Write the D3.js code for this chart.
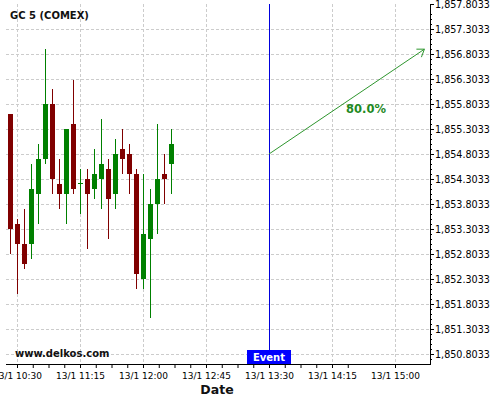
<!DOCTYPE html>
<html>
<head>
<meta charset="utf-8">
<script src="https://cdn.jsdelivr.net/npm/d3@7"></script>
<style>
  body { margin: 0; background: #fff; }
  svg { font-family: "DejaVu Sans", sans-serif; }
</style>
</head>
<body>
<div id="chart"></div>
<script>
// 5 minute candles, 13/1
const times = ["10:25","10:30","10:35","10:40","10:45","10:50","10:55","11:00","11:05","11:10","11:15","11:20",
               "11:25","11:30","11:35","11:40","11:45","11:50","11:55","12:00","12:05","12:10","12:15","12:20"];
const open  = [1855.61,1853.41,1853.01,1853.01,1854.01,1854.71,1855.81,1854.21,1854.01,1855.41,1854.23,1854.31,
               1854.11,1854.31,1854.51,1854.01,1854.91,1854.81,1854.41,1852.31,1853.11,1853.81,1854.41,1854.61];
const high  = [1855.61,1853.51,1853.71,1854.61,1855.01,1856.91,1856.11,1854.71,1855.31,1856.29,1854.51,1854.51,
               1854.91,1855.51,1854.71,1855.11,1855.31,1855.01,1854.51,1854.41,1854.11,1855.41,1854.81,1855.31];
const low   = [1852.81,1852.01,1852.51,1852.71,1853.41,1854.61,1854.01,1853.71,1853.41,1854.00,1853.61,1852.91,
               1853.91,1853.71,1853.11,1853.71,1854.41,1854.01,1852.11,1852.11,1851.53,1853.21,1853.81,1854.01];
const close = [1853.31,1853.01,1852.61,1854.11,1854.71,1855.81,1854.31,1854.01,1855.31,1854.11,1854.23,1854.01,
               1854.41,1854.61,1853.91,1854.81,1854.71,1854.41,1852.41,1853.21,1853.81,1854.31,1854.31,1855.01];

const xTickLabels = ["10:30","11:15","12:00","12:45","13:30","14:15","15:00"];
const yTicks = d3.range(15).map(i => 1850.8033 + 0.5 * i);

const eventTime = "13:30";
const arrowFrom = { time: "13:30", price: 1854.8033 };
const arrowTo = { time: "15:21", price: 1856.90 };
const arrowLabel = "80.0%";

const t = s => { const [h, m] = s.split(":"); return new Date(2020, 0, 13, +h, +m); };

const W = 500, H = 400;
const pLeft = 6, pRight = 430, pTop = 4, pBottom = 364;

const svg = d3.select("#chart").append("svg").attr("width", W).attr("height", H);

const x = d3.scaleTime().domain([t("10:30"), t("15:00")]).range([17, 395]);
const y = d3.scaleLinear().domain([1850.8033, 1857.8033]).range([354, 4]);

// grid
const grid = svg.append("g").attr("stroke", "#cccccc").attr("stroke-dasharray", "3,2").attr("shape-rendering", "crispEdges");
grid.selectAll(".gy").data(yTicks.filter(d => y(d) > pTop + 1)).join("line")
  .attr("x1", pLeft).attr("x2", pRight)
  .attr("y1", d => Math.round(y(d)) + 0.5).attr("y2", d => Math.round(y(d)) + 0.5);
grid.selectAll(".gx").data(xTickLabels).join("line")
  .attr("x1", d => x(t(d)) + 0.5).attr("x2", d => x(t(d)) + 0.5)
  .attr("y1", pTop).attr("y2", pBottom);

// candles
const candles = times.map((d, i) => ({ time: t(d), o: open[i], h: high[i], l: low[i], c: close[i] }));
const cg = svg.append("g").attr("shape-rendering", "crispEdges");
const col = d => d.c >= d.o ? "#008000" : "#800000";
cg.selectAll(".wick").data(candles).join("rect")
  .attr("x", d => x(d.time)).attr("width", 1)
  .attr("y", d => y(d.h)).attr("height", d => Math.max(1, y(d.l) - y(d.h)))
  .attr("fill", col);
cg.selectAll(".body").data(candles).join("rect")
  .attr("x", d => x(d.time) - 2).attr("width", 5)
  .attr("y", d => y(Math.max(d.o, d.c)))
  .attr("height", d => Math.max(1, Math.abs(y(d.o) - y(d.c))))
  .attr("fill", col);

// x axis
const minorX = d3.range(0, 23).map(i => new Date(+t("10:30") + (i - 1) * 11.25 * 60000)).filter(d => x(d) >= pLeft && x(d) <= pRight);
svg.append("g").attr("transform", `translate(0,${pBottom})`)
  .call(d3.axisBottom(x).tickValues(minorX).tickSize(4).tickFormat(""))
  .call(g => g.select(".domain").remove());
const xAxis = svg.append("g").attr("transform", `translate(0,${pBottom})`)
  .call(d3.axisBottom(x).tickValues(xTickLabels.map(t)).tickSize(4).tickFormat(d3.timeFormat("%-d/%-m %H:%M")))
  .call(g => g.select(".domain").remove());
xAxis.selectAll("text").attr("font-size", 9).attr("font-family", "DejaVu Sans").attr("fill", "#000").attr("dy", "0.9em");
svg.append("line").attr("x1", pLeft).attr("x2", pRight + 0.5).attr("y1", pBottom + 0.5).attr("y2", pBottom + 0.5)
  .attr("stroke", "#000");

// y axis
svg.append("g").attr("transform", `translate(${pRight},0)`)
  .call(d3.axisRight(y).tickValues(d3.range(71).map(i => 1850.6033 + 0.1 * i).filter(d => y(d) >= pTop - 0.5 && y(d) <= pBottom)).tickSize(2).tickFormat(""))
  .call(g => g.select(".domain").remove());
const yAxis = svg.append("g").attr("transform", `translate(${pRight},0)`)
  .call(d3.axisRight(y).tickValues(yTicks).tickSize(4).tickPadding(1).tickFormat(d3.format(",.4f")))
  .call(g => g.select(".domain").remove());
yAxis.selectAll("text").attr("font-size", 9.6).attr("font-family", "DejaVu Sans").attr("fill", "#000");
svg.append("line").attr("x1", pRight + 0.5).attr("x2", pRight + 0.5).attr("y1", pTop).attr("y2", pBottom + 1)
  .attr("stroke", "#000");

// event marker
const ex = x(t(eventTime));
svg.append("line").attr("x1", ex + 0.5).attr("x2", ex + 0.5).attr("y1", pTop).attr("y2", 350)
  .attr("stroke", "#0000dd");
svg.append("rect").attr("x", ex - 22).attr("y", 350).attr("width", 44).attr("height", 14).attr("fill", "#0000ff");
svg.append("text").attr("x", ex).attr("y", 361).attr("text-anchor", "middle")
  .attr("font-size", 10).attr("font-weight", "bold").attr("fill", "#fff").text("Event");

// projection arrow
const ax1 = x(t(arrowFrom.time)), ay1 = y(arrowFrom.price);
const ax2 = x(t(arrowTo.time)), ay2 = y(arrowTo.price);
svg.append("line").attr("x1", ax1).attr("y1", ay1).attr("x2", ax2).attr("y2", ay2)
  .attr("stroke", "#2e962e").attr("stroke-width", 1);
svg.append("path")
  .attr("d", `M${ax2 - 8},${ay2}L${ax2},${ay2}L${ax2 - 3},${ay2 + 8}`)
  .attr("fill", "none").attr("stroke", "#2e962e");
svg.append("text").attr("x", 366).attr("y", 113).attr("text-anchor", "middle")
  .attr("font-size", 11.5).attr("font-weight", "bold").attr("fill", "#1f8a1f").text(arrowLabel);

// labels
svg.append("text").attr("x", 10).attr("y", 19).attr("font-size", 10).attr("font-weight", "bold")
  .attr("fill", "#111").text("GC 5 (COMEX)");
svg.append("text").attr("x", 15).attr("y", 357).attr("font-size", 10).attr("font-weight", "bold")
  .attr("fill", "#111").text("www.delkos.com");
svg.append("text").attr("x", 217).attr("y", 394).attr("text-anchor", "middle")
  .attr("font-size", 12.5).attr("font-weight", "bold").attr("fill", "#111").text("Date");
</script>
</body>
</html>
